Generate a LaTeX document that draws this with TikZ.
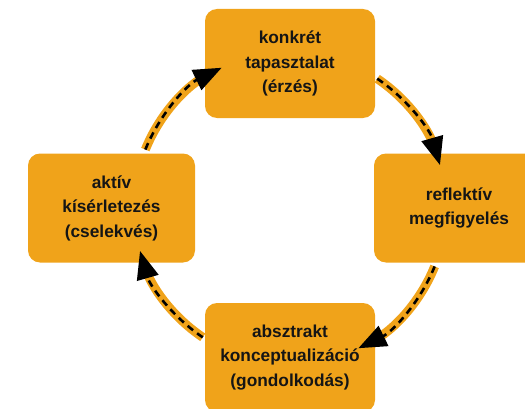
\documentclass[tikz,border=0pt]{standalone}
\usepackage{fontspec}
\setmainfont{Liberation Sans}
\usetikzlibrary{arrows.meta,calc}
\definecolor{boxorange}{HTML}{F0A31A}
\definecolor{txt}{HTML}{151515}
\begin{document}
\begin{tikzpicture}[x=1pt,y=1pt,
  stagebox/.style={fill=boxorange, rounded corners=12pt, minimum width=170pt, minimum height=109pt,
    align=center, text=txt, font=\bfseries\fontsize{17.3}{24.5}\selectfont, inner sep=0pt},
  band/.style={draw=boxorange, line width=9pt, shorten >=14pt},
  dashline/.style={draw=black, line width=2.6pt, dash pattern=on 7pt off 5pt,
    -{Triangle[length=28pt,width=22pt]}}]
\useasboundingbox (0,0) rectangle (525,408);
\clip (0,0) rectangle (525,408);
\node[stagebox] (top) at (290,344.5) {konkrét\\tapasztalat\\(érzés)};
\node[stagebox] (right) at (459,200) {reflektív\\megfigyelés};
\node[stagebox] (bottom) at (290,50.5) {absztrakt\\konceptualizáció\\(gondolkodás)};
\node[stagebox, minimum width=167pt] (left) at (111.5,200) {aktív\\kísérletezés\\(cselekvés)};
\coordinate (c) at (290,200);
\coordinate (s1) at ($(c)+(158:156pt)$);
\coordinate (s2) at ($(c)+(56:156pt)$);
\coordinate (s3) at ($(c)+(-22:156pt)$);
\coordinate (s4) at ($(c)+(-124:156pt)$);
\draw[band] (s1) arc[start angle=158,end angle=116,radius=156pt];
\draw[dashline] (s1) arc[start angle=158,end angle=116,radius=156pt];
\draw[band] (s2) arc[start angle=56,end angle=16,radius=156pt];
\draw[dashline] (s2) arc[start angle=56,end angle=16,radius=156pt];
\draw[band] (s3) arc[start angle=-22,end angle=-64,radius=156pt];
\draw[dashline] (s3) arc[start angle=-22,end angle=-64,radius=156pt];
\draw[band] (s4) arc[start angle=-124,end angle=-164,radius=156pt];
\draw[dashline] (s4) arc[start angle=-124,end angle=-164,radius=156pt];
\end{tikzpicture}
\end{document}
